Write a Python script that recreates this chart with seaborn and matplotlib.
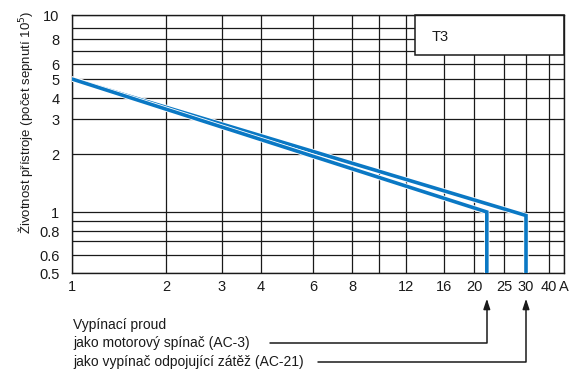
import numpy as np
import pandas as pd
import seaborn as sns
import matplotlib
matplotlib.use('Agg')
import matplotlib.pyplot as plt
from matplotlib import patheffects
from matplotlib.patches import Rectangle

# data (current in A, lifetime in 10^5 operations)
current_ac3 = [1, 22, 22]
life_ac3 = [5.0, 1.0, 0.5]
current_ac21 = [1, 30, 30]
life_ac21 = [5.0, 0.96, 0.5]

x_ticks = [1, 2, 3, 4, 6, 8, 10, 12, 16, 20, 25, 30, 40, 48]
x_tick_labels = ['1', '2', '3', '4', '6', '8', '', '12', '16', '20', '25', '30', '40', 'A']
y_ticks = [0.5, 0.6, 0.7, 0.8, 0.9, 1, 2, 3, 4, 5, 6, 7, 8, 9, 10]
y_tick_labels = ['0.5', '0.6', '', '0.8', '', '1', '2', '3', '4', '5', '6', '', '8', '', '10']

# the printed scales are hand drawn (not a clean log grid), so calibrate them
x_cal_val = [1, 2, 3, 4, 6, 8, 10, 12, 16, 20, 25, 30, 40, 48]
x_cal_pos = [72, 166, 222, 261, 313, 352, 379, 406, 444, 474, 504, 526, 549, 564]
y_cal_val = [0.5, 0.6, 0.7, 0.8, 0.9, 1, 2, 3, 4, 5, 6, 7, 8, 9, 10]
y_cal_pos = [273, 255, 241, 231, 221, 212, 154, 119, 98, 79, 64, 51, 39, 28, 15]


def make_scale(vals, pos, flip=False):
    lv = np.log10(vals)
    p = np.array(pos, dtype=float)
    if flip:
        p = -p

    def fwd(v):
        v = np.clip(np.asarray(v, dtype=float), 1e-6, None)
        return np.interp(np.log10(v), lv, p)

    def inv(v):
        return 10 ** np.interp(np.asarray(v, dtype=float), p, lv)
    return fwd, inv


sns.set_style('white')
plt.rcParams['font.family'] = ['Liberation Sans', 'DejaVu Sans']

fig = plt.figure(figsize=(5.7, 3.72), dpi=100)
ax = fig.add_axes([72 / 570, 99 / 372, 492 / 570, 258 / 372])

ax.set_xscale('function', functions=make_scale(x_cal_val, x_cal_pos))
ax.set_yscale('function', functions=make_scale(y_cal_val, y_cal_pos, flip=True))
ax.set_xlim(1, 48)
ax.set_ylim(0.5, 10)

blue = '#0a78c4'
halo = [patheffects.Stroke(linewidth=3.8, foreground='white'), patheffects.Normal()]
df_ac3 = pd.DataFrame({'current': current_ac3, 'life': life_ac3})
df_ac21 = pd.DataFrame({'current': current_ac21, 'life': life_ac21})
for df in [df_ac21, df_ac3]:
    sns.lineplot(data=df, x='current', y='life', sort=False, estimator=None,
                 color=blue, lw=2.6, ax=ax, zorder=3, path_effects=halo,
                 solid_joinstyle='miter')

ax.set_xticks(x_ticks)
ax.set_xticklabels(x_tick_labels)
ax.set_yticks(y_ticks)
ax.set_yticklabels(y_tick_labels)
ax.minorticks_off()
ax.tick_params(axis='both', length=0, labelsize=10.5, colors='#1a1a1a')
ax.tick_params(axis='x', pad=5)
ax.tick_params(axis='y', pad=9)
ax.grid(True, color='#1a1a1a', lw=0.9)
ax.set_axisbelow(True)
for s in ax.spines.values():
    s.set_visible(True)
    s.set_color('#1a1a1a')
    s.set_linewidth(1.0)

ax.set_xlabel('')
ax.set_ylabel('Životnost přístroje (počet sepnutí 10$^{5}$)', fontsize=9.5, color='#1a1a1a')
ax.yaxis.set_label_coords(-0.075, 0.583)

# T3 box
ax.add_patch(Rectangle((0.697, 0.845), 0.303, 0.155, transform=ax.transAxes,
                       facecolor='white', edgecolor='#1a1a1a', lw=1.1, zorder=2,
                       clip_on=False))
ax.text(0.73, 0.915, 'T3', transform=ax.transAxes, fontsize=10.5, va='center',
        ha='left', color='#1a1a1a', zorder=4)

# legend notes below the axis
notes = ['Vypínací proud', 'jako motorový spínač (AC-3)',
         'jako vypínač odpojující zátěž (AC-21)']
note_y = [-0.2016, -0.271, -0.345]
for t, yy in zip(notes, note_y):
    ax.text(0.002, yy, t, transform=ax.transAxes, fontsize=10, va='center',
            ha='left', color='#1a1a1a')

xtr = ax.get_xaxis_transform()
for x_end, x_start, yy in [(current_ac3[1], 0.4024, note_y[1]), (current_ac21[1], 0.50, note_y[2])]:
    ax.annotate('', xy=(x_end, -0.10), xycoords=xtr,
                xytext=(x_start, yy), textcoords='axes fraction',
                arrowprops=dict(arrowstyle='-|>,head_length=0.6,head_width=0.2',
                                connectionstyle='angle,angleA=0,angleB=90,rad=0',
                                shrinkA=0, shrinkB=0, color='#1a1a1a', lw=1.1))

fig.savefig('out.png', dpi=100)
